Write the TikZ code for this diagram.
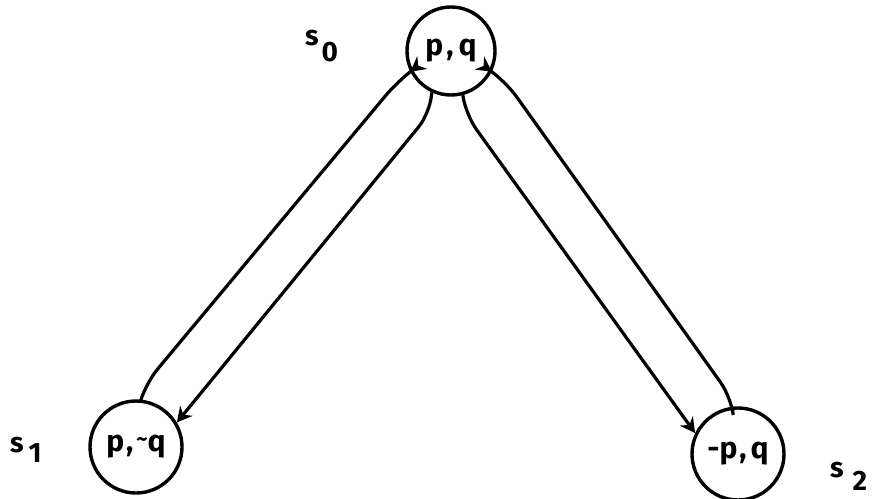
\documentclass[tikz,border=0pt]{standalone}
\usepackage{fontspec}
\setmainfont{Fira Sans}[UprightFont=* Bold]
\usetikzlibrary{arrows.meta}
\begin{document}
\begin{tikzpicture}[x=1pt,y=-1pt,
  state/.style={circle,draw,line width=3.4pt,inner sep=0pt,font=\fontsize{30}{30}\selectfont},
  lab/.style={inner sep=0pt,font=\fontsize{28}{28}\selectfont},
  conn/.style={line width=3.2pt,rounded corners=18pt,-{Stealth[length=15pt,width=16pt,inset=5pt]}}]
\useasboundingbox (0,0) rectangle (875,498);
\node[state,minimum size=88pt] (t) at (451,51) {p\kern3pt,\kern5pt q};
\node[state,minimum size=92pt] (l) at (136,447) {p\kern2pt,\kern3pt\raisebox{5pt}{\fontsize{22}{22}\selectfont\textasciitilde}q};
\node[state,minimum size=92pt] (r) at (738,454) {-p\kern2pt,\kern4pt q};
\node[lab,anchor=base west] (s0) at (305,45) {s\kern3pt\raisebox{-16pt}{0}};
\node[lab,anchor=base west] (s1) at (10,452) {s\kern5pt\raisebox{-10pt}{1}};
\node[lab,anchor=base west] (s2) at (830,477) {s\kern9pt\raisebox{-13pt}{2}};
\draw[conn] (l.84) -- (146,383) -- (397,82) -- (t.207);
\draw[conn] (t.245) -- (430,113) -- (l.31);
\draw[conn] (t.285) -- (466,115) -- (r.154);
\draw[conn] (r.97) -- (731,397) -- (506,82) -- (t.333);
\end{tikzpicture}
\end{document}
